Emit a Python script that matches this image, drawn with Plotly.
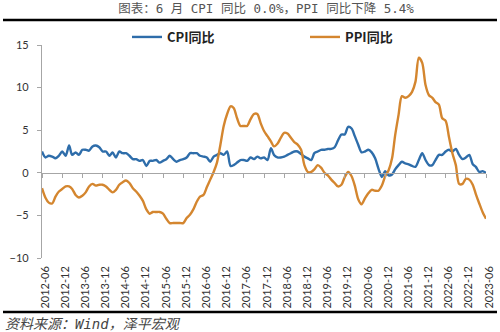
import plotly.graph_objects as go
import pandas as pd

# ---- data ----
months = pd.date_range("2012-06-01", "2023-06-01", freq="MS")

cpi = [2.5, 1.8, 2.0, 1.9, 1.7, 2.0, 2.5,
       2.0, 3.2, 2.1, 2.4, 2.1, 2.7, 2.7, 2.6, 3.1, 3.2, 3.0, 2.5,
       2.5, 2.0, 2.4, 1.8, 2.5, 2.3, 2.3, 2.0, 1.6, 1.6, 1.4, 1.5,
       0.8, 1.4, 1.4, 1.5, 1.2, 1.4, 1.6, 2.0, 1.6, 1.3, 1.5, 1.6,
       1.8, 2.3, 2.3, 2.3, 2.0, 1.9, 1.8, 1.3, 1.9, 2.1, 2.3, 2.1,
       2.5, 0.8, 0.9, 1.2, 1.5, 1.5, 1.4, 1.8, 1.6, 1.9, 1.7, 1.8,
       1.5, 2.9, 2.1, 1.8, 1.8, 1.9, 2.1, 2.3, 2.5, 2.5, 2.2, 1.9,
       1.7, 1.5, 2.3, 2.5, 2.7, 2.7, 2.8, 2.8, 3.0, 3.8, 4.5, 4.5,
       5.4, 5.2, 4.3, 3.3, 2.4, 2.5, 2.7, 2.4, 1.7, 0.5, -0.5, 0.2,
       -0.3, -0.2, 0.4, 0.9, 1.3, 1.1, 1.0, 0.8, 0.7, 1.5, 2.3, 1.5,
       0.9, 0.9, 1.5, 2.1, 2.1, 2.5, 2.7, 2.5, 2.8, 2.1, 1.6, 1.8,
       2.1, 1.0, 0.7, 0.1, 0.2, 0.0]

ppi = [-1.8, -2.9, -3.5, -3.6, -2.8, -2.2, -1.9,
       -1.6, -1.6, -1.9, -2.6, -2.9, -2.7, -2.3, -1.6, -1.3, -1.5, -1.4, -1.4,
       -1.6, -2.0, -2.3, -2.0, -1.4, -1.1, -0.9, -1.2, -1.8, -2.2, -2.7, -3.3,
       -4.3, -4.8, -4.6, -4.6, -4.6, -4.8, -5.4, -5.9, -5.9, -5.9, -5.9, -5.9,
       -5.3, -4.9, -4.3, -3.4, -2.8, -2.6, -1.7, -0.8, 0.1, 1.2, 3.3, 5.5,
       6.9, 7.8, 7.6, 6.4, 5.5, 5.5, 5.5, 6.3, 6.9, 6.9, 5.8, 4.9,
       4.3, 3.7, 3.1, 3.4, 4.1, 4.7, 4.6, 4.1, 3.6, 3.3, 2.7, 0.9,
       0.1, 0.1, 0.4, 0.9, 0.6, 0.0, -0.3, -0.8, -1.2, -1.6, -1.4, -0.5,
       0.1, -0.4, -1.5, -3.1, -3.7, -3.0, -2.4, -2.0, -2.1, -2.1, -1.5, -0.4,
       0.3, 1.7, 4.4, 6.8, 9.0, 8.8, 9.0, 9.5, 10.7, 13.5, 12.9, 10.3,
       9.1, 8.8, 8.3, 8.0, 6.4, 6.1, 4.2, 2.3, 0.9, -1.3, -1.3, -0.7,
       -0.8, -1.4, -2.5, -3.6, -4.6, -5.4]

tick_dates = pd.date_range("2012-06-01", "2023-06-01", freq="6MS")
tick_labels = [d.strftime("%Y-%m") for d in tick_dates]
y_ticks = [-10, -5, 0, 5, 10, 15]

title_text = "图表：6 月 CPI 同比 0.0%，PPI 同比下降 5.4%"
source_text = "资料来源：Wind，泽平宏观"
names = ["CPI同比", "PPI同比"]

# ---- figure ----
W, H = 500, 332
L, R, T, B = 42, 14, 45, 74
pw, ph = W - L - R, H - T - B

def px_x(p):
    return (p - L) / pw

def px_y(p):
    return (H - B - p) / ph

CJK = "Noto Sans CJK SC"
MONO = "DejaVu Sans Mono, Noto Sans CJK SC"
NUM = "Lato"

fig = go.Figure()
# invisible helper so the zero-line axis with tick marks is drawn
fig.add_trace(go.Scatter(x=months, y=cpi, xaxis="x2", mode="lines",
                         line=dict(width=0, color="rgba(0,0,0,0)"), showlegend=False, hoverinfo="skip"))
fig.add_trace(go.Scatter(x=months, y=cpi, name="<b>" + names[0] + "</b>",
                         mode="lines", line=dict(color="#2E6DAA", width=2.4, shape="spline", smoothing=0.8)))
fig.add_trace(go.Scatter(x=months, y=ppi, name="<b>" + names[1] + "</b>",
                         mode="lines", line=dict(color="#D4862F", width=2.4, shape="spline", smoothing=0.8)))

rng = [months[0], months[-1]]
fig.update_layout(
    width=W, height=H,
    margin=dict(l=L, r=R, t=T, b=B, autoexpand=False),
    paper_bgcolor="white", plot_bgcolor="white",
    title=dict(text=title_text, x=266 / W, xref="container", xanchor="center",
               y=1 - 9 / H, yref="container", yanchor="middle",
               font=dict(family=MONO, size=12.5, color="#555555")),
    xaxis=dict(type="date", range=rng, tickmode="array", tickvals=tick_dates, ticktext=tick_labels,
               tickangle=-90, ticks="", showline=False, showgrid=False, zeroline=False,
               ticklabelshift=3, ticklabelstandoff=5,
               tickfont=dict(family=NUM, size=11, color="#333333")),
    xaxis2=dict(type="date", range=rng, overlaying="x", anchor="free", position=0.4, side="bottom",
                tickmode="array", tickvals=tick_dates, showticklabels=False,
                ticks="outside", ticklen=4, tickcolor="#A6A6A6", tickwidth=1,
                showline=True, linecolor="#A6A6A6", linewidth=1.2, showgrid=False, zeroline=False),
    yaxis=dict(range=[-10, 15], tickmode="array", tickvals=y_ticks, showgrid=False, zeroline=False,
               showline=True, linecolor="#A6A6A6", linewidth=1.2, ticks="outside", ticklen=4,
               ticklabelstandoff=6,
               tickcolor="#A6A6A6", tickfont=dict(family=NUM, size=11, color="#333333")),
    legend=dict(orientation="h", xref="container", yref="container", x=127 / W, y=1 - 37 / H,
                xanchor="left", yanchor="middle", entrywidth=133, entrywidthmode="pixels",
                font=dict(family=CJK, size=13, color="#222222"), bgcolor="rgba(0,0,0,0)"),
    showlegend=True,
)

fig.add_shape(type="line", xref="paper", yref="paper", x0=px_x(3), x1=px_x(497), y0=px_y(20), y1=px_y(20),
              line=dict(color="black", width=2.5))
fig.add_shape(type="line", xref="paper", yref="paper", x0=px_x(3), x1=px_x(497), y0=px_y(312), y1=px_y(312),
              line=dict(color="black", width=2.5))
fig.add_annotation(text="<i>" + source_text + "</i>", xref="paper", yref="paper", x=px_x(3), y=px_y(324),
                   xanchor="left", yanchor="middle", showarrow=False,
                   font=dict(family=MONO, size=14, color="#444444"))

fig.write_html("out.html")
